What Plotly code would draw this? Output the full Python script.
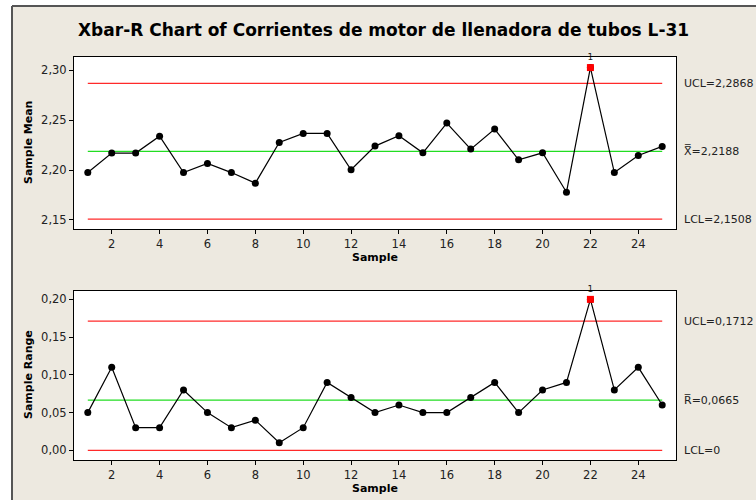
import plotly.graph_objects as go

# Xbar-R chart data (subgroups of 3)
samples = list(range(1, 26))
sample_means = [2.1975, 2.2170, 2.2170, 2.2340, 2.1975, 2.2066, 2.1975, 2.1869,
                2.2277, 2.2367, 2.2367, 2.2003, 2.2240, 2.2344, 2.2173, 2.2471,
                2.2210, 2.2411, 2.2103, 2.2173, 2.1778, 2.3027, 2.1975, 2.2146,
                2.2237]
sample_ranges = [0.05, 0.11, 0.03, 0.03, 0.08, 0.05, 0.03, 0.04, 0.01, 0.03,
                 0.09, 0.07, 0.05, 0.06, 0.05, 0.05, 0.07, 0.09, 0.05, 0.08,
                 0.09, 0.20, 0.08, 0.11, 0.06]

xbar_limits = {"UCL": 2.2868, "CL": 2.2188, "LCL": 2.1508}
r_limits = {"UCL": 0.1712, "CL": 0.0665, "LCL": 0.0}
xbar_labels = ["UCL=2,2868", "X\u033f=2,2188", "LCL=2,1508"]
r_labels = ["UCL=0,1712", "R\u0305=0,0665", "LCL=0"]
x_ticks = [2, 4, 6, 8, 10, 12, 14, 16, 18, 20, 22, 24]
xbar_ticks = [2.15, 2.20, 2.25, 2.30]
r_ticks = [0.00, 0.05, 0.10, 0.15, 0.20]
out_of_control = [22]

W, H = 756, 500
ML, MR, MT, MB = 74, 80, 57, 40
PW, PH = W - ML - MR, H - MT - MB


def px(x):
    return (x - ML) / PW


def py(y):
    return (H - MB - y) / PH


BG = "#EDE9E0"
FONT = "DejaVu Sans"

fig = go.Figure()


def add_chart(values, limits, xa, ya):
    xs = [samples[0], samples[-1]]
    for key, color in (("UCL", "#FF2A2A"), ("LCL", "#FF2A2A"), ("CL", "#22DD22")):
        fig.add_trace(go.Scatter(x=xs, y=[limits[key]] * 2, mode="lines",
                                 line=dict(color=color, width=1.3),
                                 xaxis=xa, yaxis=ya, hoverinfo="skip"))
    fig.add_trace(go.Scatter(x=samples, y=values, mode="lines+markers",
                             line=dict(color="black", width=1.2),
                             marker=dict(color="black", size=7),
                             xaxis=xa, yaxis=ya))
    ox = [s for s in samples if s in out_of_control]
    oy = [values[samples.index(s)] for s in ox]
    fig.add_trace(go.Scatter(x=ox, y=oy, mode="markers+text", cliponaxis=False,
                             marker=dict(color="#FF0000", size=7, symbol="square"),
                             text=["1"] * len(ox), textposition="top center",
                             textfont=dict(size=9, color="#222", family=FONT),
                             xaxis=xa, yaxis=ya))


add_chart(sample_means, xbar_limits, "x", "y")
add_chart(sample_ranges, r_limits, "x2", "y2")

axis_common = dict(showgrid=False, zeroline=False, showline=True, mirror=True,
                   linecolor="black", linewidth=1, ticks="outside", ticklen=4,
                   tickcolor="black", tickfont=dict(size=11.5, color="#222", family=FONT))

top_dom = [py(229), 1.0]
bot_dom = [0.0, py(290.7)]

fig.update_layout(
    width=W, height=H, margin=dict(l=ML, r=MR, t=MT, b=MB),
    paper_bgcolor=BG, plot_bgcolor="white", showlegend=False,
    separators=",.",
    xaxis=dict(domain=[0, 1], range=[0.424, 25.576], tickvals=x_ticks, anchor="y", **axis_common),
    yaxis=dict(domain=top_dom, range=[2.14096, 2.3133], tickvals=xbar_ticks,
               tickformat=".2f", anchor="x", **axis_common),
    xaxis2=dict(domain=[0, 1], range=[0.424, 25.576], tickvals=x_ticks, anchor="y2", **axis_common),
    yaxis2=dict(domain=bot_dom, range=[-0.0128, 0.2115], tickvals=r_ticks,
                tickformat=".2f", anchor="x2", **axis_common),
)

# white margin outside the panel frame, plus the frame edges
fig.add_shape(type="rect", xref="paper", yref="paper", x0=px(-20), x1=px(12), y0=py(520), y1=py(-20),
              fillcolor="white", line_width=0, layer="below")
fig.add_shape(type="rect", xref="paper", yref="paper", x0=px(-20), x1=px(780), y0=py(6), y1=py(-20),
              fillcolor="white", line_width=0, layer="below")
fig.add_shape(type="line", xref="paper", yref="paper", x0=px(12), x1=px(12), y0=py(6), y1=py(520),
              line=dict(color="#555", width=2))
fig.add_shape(type="line", xref="paper", yref="paper", x0=px(12), x1=px(780), y0=py(6), y1=py(6),
              line=dict(color="#555", width=2))

annotations = [
    dict(text="<b>Xbar-R Chart of Corrientes de motor de llenadora de tubos L-31</b>",
         x=px(383), y=py(29.5), xanchor="center", yanchor="middle",
         font=dict(size=17, color="black", family=FONT)),
    dict(text="<b>Sample Mean</b>", x=px(28), y=py(143), textangle=-90,
         xanchor="center", yanchor="middle", font=dict(size=11, color="black", family=FONT)),
    dict(text="<b>Sample Range</b>", x=px(28), y=py(375), textangle=-90,
         xanchor="center", yanchor="middle", font=dict(size=11, color="black", family=FONT)),
    dict(text="<b>Sample</b>", x=px(375), y=py(257), xanchor="center", yanchor="middle",
         font=dict(size=11, color="black", family=FONT)),
    dict(text="<b>Sample</b>", x=px(375), y=py(489), xanchor="center", yanchor="middle",
         font=dict(size=11, color="black", family=FONT)),
]
for a in annotations:
    a.update(xref="paper", yref="paper", showarrow=False)
    fig.add_annotation(**a)

for labels, limits, yref in ((xbar_labels, xbar_limits, "y"), (r_labels, r_limits, "y2")):
    for text, key in zip(labels, ("UCL", "CL", "LCL")):
        fig.add_annotation(text=text, xref="paper", yref=yref, x=px(682), y=limits[key],
                           xanchor="left", yanchor="middle", showarrow=False,
                           font=dict(size=11, color="#222", family=FONT))

fig.write_html("out.html")
